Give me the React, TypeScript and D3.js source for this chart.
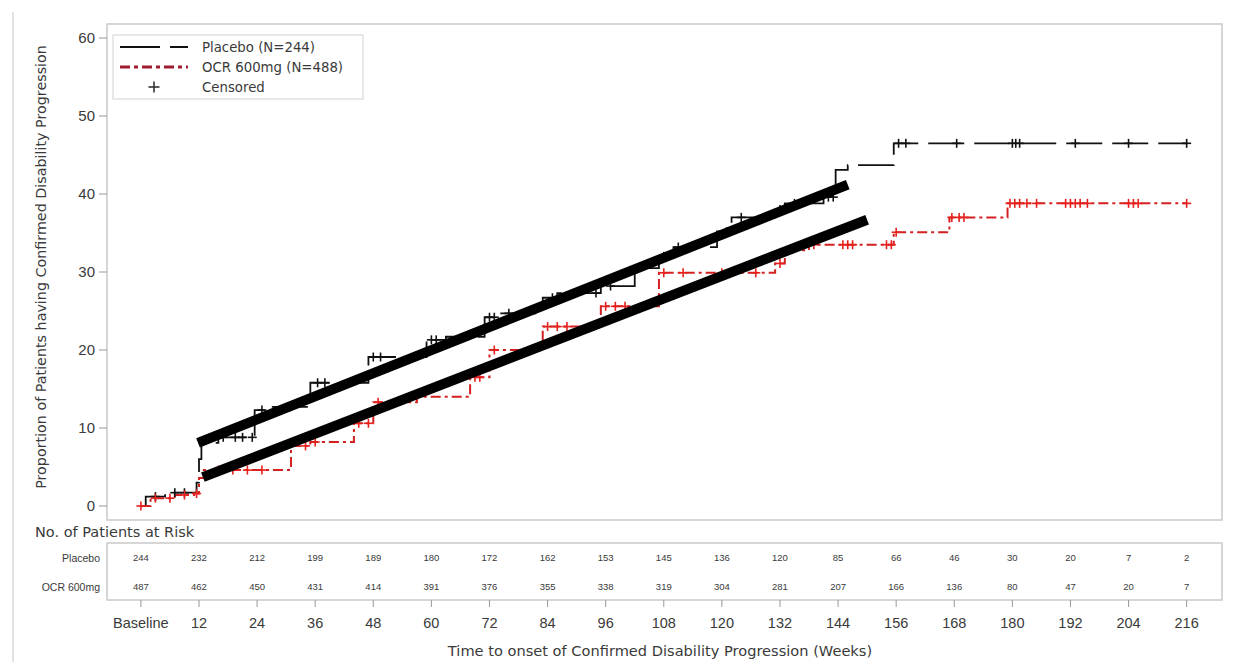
import React from "react";
import * as d3 from "d3";

// ---------- data ----------
const xTickWeeks = [0, 12, 24, 36, 48, 60, 72, 84, 96, 108, 120, 132, 144, 156, 168, 180, 192, 204, 216];
const xTickLabels = ["Baseline", "12", "24", "36", "48", "60", "72", "84", "96", "108", "120", "132", "144", "156", "168", "180", "192", "204", "216"];
const yTicks = [0, 10, 20, 30, 40, 50, 60];

const placeboAtRisk = [244, 232, 212, 199, 189, 180, 172, 162, 153, 145, 136, 120, 85, 66, 46, 30, 20, 7, 2];
const ocrAtRisk = [487, 462, 450, 431, 414, 391, 376, 355, 338, 319, 304, 281, 207, 166, 136, 80, 47, 20, 7];

// step curves: [week, cumulative % with CDP]
const placeboSteps: [number, number][] = [
  [0, 0], [1, 1.2], [5, 1.7], [11.5, 3.0], [12, 6.0], [12.5, 8.1], [16, 8.8], [23.5, 12.3], [27, 12.7],
  [35, 15.8], [47, 19.1], [59, 21.3], [63, 21.7], [71, 24.2], [74, 24.7], [83, 26.7], [86, 27.3],
  [95, 28.2], [102, 30.5], [107, 32.0], [110, 33.2], [119, 35.2], [122, 37.0], [131, 38.0], [133, 38.8],
  [141, 39.6], [143.5, 43.1], [146, 43.7], [155.5, 46.5], [216, 46.5],
];
const ocrSteps: [number, number][] = [
  [0, 0], [2, 1.0], [7, 1.4], [11, 1.6], [12, 3.6], [13, 4.6], [31, 7.7], [35, 8.2], [44, 10.6],
  [48, 13.3], [57, 14.0], [68, 16.5], [72, 20.0], [83, 23.0], [95, 25.6], [107, 29.9], [131, 31.1],
  [133, 32.8], [138, 33.5], [155.5, 35.1], [167, 37.0], [179, 38.8], [216, 38.8],
];
const placeboCensored = [3, 7, 9, 17, 19.5, 21, 23, 25, 36.5, 38, 48, 49.5, 60, 61, 72, 73, 76, 85, 94, 97,
  108, 111, 121, 124, 132, 135, 142, 143, 156.5, 158, 168.5, 180, 180.7, 181.5, 193, 204, 216];
const ocrCensored = [0, 3, 6, 9, 11.5, 16, 19, 22, 25, 34, 36, 45, 47, 49, 57, 69, 70, 73, 84, 86, 88, 96, 98,
  100, 108, 112, 120, 127, 132, 134, 139, 145, 146, 147, 154, 155, 156, 167.5, 169, 170, 179.5, 180.5,
  181.5, 183, 185, 191, 192, 193, 194, 195.5, 204, 205, 206, 216];

// thick overlay strokes drawn over the figure: [week, %]
const placeboOverlay: [number, number][] = [[11.8, 8.1], [146, 41.2]];
const ocrOverlay: [number, number][] = [[12.8, 3.7], [150, 36.7]];

const legendItems = ["Placebo (N=244)", "OCR 600mg (N=488)", "Censored"];

// ---------- helpers ----------
function valueAt(steps: [number, number][], t: number) {
  let v = 0;
  for (const [w, p] of steps) if (w <= t) v = p;
  return v;
}

const W = 1245, H = 662;
const FONT = "'Liberation Sans', Arial, sans-serif";
const WIDE = "'DejaVu Sans', Verdana, sans-serif";
const TXT = "#3a3a3a";
const FRAME = "#c9c9c9";
const PL = "#111";
const OCR_LINE = "#d42020";
const OCR_LEG = "#a01c30";
const OCR_MARK = "#e6201c";

export default function App() {
  const frame = { l: 107, r: 1222, t: 24, b: 520 };
  const x = d3.scaleLinear().domain([-7, 223.3]).range([frame.l, frame.r]);
  const y = d3.scaleLinear().domain([-1.8, 61.8]).range([frame.b, frame.t]);
  const step = d3.line<[number, number]>().x((d) => x(d[0])).y((d) => y(d[1])).curve(d3.curveStepAfter);
  const straight = d3.line<[number, number]>().x((d) => x(d[0])).y((d) => y(d[1]));

  const plus = (cx: number, cy: number, s: number, color: string, key: string) => (
    <g key={key} stroke={color} strokeWidth={1.6}>
      <line x1={cx - s} x2={cx + s} y1={cy} y2={cy} />
      <line x1={cx} x2={cx} y1={cy - s} y2={cy + s} />
    </g>
  );

  const table = { t: 543, b: 600 };
  const rowY = [558, 587];

  return (
    <svg width={W} height={H} style={{ position: "absolute", left: 0, top: 0, background: "#fff" }} fontFamily={FONT}>
      <line x1={13} x2={13} y1={12} y2={H} stroke="#d8d8d8" strokeWidth={1.5} />

      {/* plot frame */}
      <rect x={frame.l} y={frame.t} width={frame.r - frame.l} height={frame.b - frame.t} fill="none" stroke={FRAME} strokeWidth={1.5} />

      {/* y axis */}
      {yTicks.map((t) => (
        <g key={t}>
          <line x1={frame.l - 8} x2={frame.l} y1={y(t)} y2={y(t)} stroke="#999" />
          <text x={frame.l - 12} y={y(t)} dy="0.35em" textAnchor="end" fontSize={15} fill={TXT}>{t}</text>
        </g>
      ))}
      <text transform={`translate(41,267) rotate(-90)`} dy="0.35em" textAnchor="middle" fontSize={14.3} fill={TXT} fontFamily={WIDE}>
        Proportion of Patients having Confirmed Disability Progression
      </text>

      {/* curves */}
      <path d={step(placeboSteps) || ""} fill="none" stroke={PL} strokeWidth={1.8} strokeDasharray="36,10" />
      <path d={step(ocrSteps) || ""} fill="none" stroke={OCR_LINE} strokeWidth={2} strokeDasharray="10,4,3,4" />
      {placeboCensored.map((t, i) => plus(x(t), y(valueAt(placeboSteps, t)), 4.5, PL, "pc" + i))}
      {ocrCensored.map((t, i) => plus(x(t), y(valueAt(ocrSteps, t)), 4.5, OCR_MARK, "oc" + i))}

      {/* overlay strokes */}
      <path d={straight(placeboOverlay) || ""} stroke="#000" strokeWidth={10} fill="none" />
      <path d={straight(ocrOverlay) || ""} stroke="#000" strokeWidth={10} fill="none" />

      {/* legend */}
      <rect x={113} y={35} width={250} height={64} fill="#fff" stroke="#d2d2d2" />
      <line x1={120} x2={188} y1={47} y2={47} stroke={PL} strokeWidth={2} strokeDasharray="40,10" />
      <line x1={120} x2={188} y1={67} y2={67} stroke={OCR_LEG} strokeWidth={3} strokeDasharray="10,4,4,4" />
      {plus(154, 87, 5.5, "#333", "legplus")}
      {legendItems.map((s, i) => (
        <text key={s} x={202} y={47 + i * 20} dy="0.35em" fontSize={13.3} fill={TXT} fontFamily={WIDE}>{s}</text>
      ))}

      {/* at-risk table */}
      <text x={35} y={532} dy="0.35em" fontSize={14.5} fill={TXT} fontFamily={WIDE}>No. of Patients at Risk</text>
      <rect x={frame.l} y={table.t} width={frame.r - frame.l} height={table.b - table.t} fill="none" stroke={FRAME} strokeWidth={1.5} />
      <text x={100} y={rowY[0]} dy="0.35em" textAnchor="end" fontSize={10.5} fill={TXT}>Placebo</text>
      <text x={100} y={rowY[1]} dy="0.35em" textAnchor="end" fontSize={10.5} fill={TXT}>OCR 600mg</text>
      {xTickWeeks.map((w, i) => (
        <g key={w}>
          <text x={x(w)} y={rowY[0]} dy="0.35em" textAnchor="middle" fontSize={9.5} fill={TXT}>{placeboAtRisk[i]}</text>
          <text x={x(w)} y={rowY[1]} dy="0.35em" textAnchor="middle" fontSize={9.5} fill={TXT}>{ocrAtRisk[i]}</text>
          <line x1={x(w)} x2={x(w)} y1={table.b} y2={table.b + 7} stroke="#999" />
          <text x={x(w)} y={623} dy="0.35em" textAnchor="middle" fontSize={14.5} fill={TXT}>{xTickLabels[i]}</text>
        </g>
      ))}
      <text x={660} y={651} dy="0.35em" textAnchor="middle" fontSize={14.6} fill={TXT} fontFamily={WIDE}>
        Time to onset of Confirmed Disability Progression (Weeks)
      </text>
    </svg>
  );
}
